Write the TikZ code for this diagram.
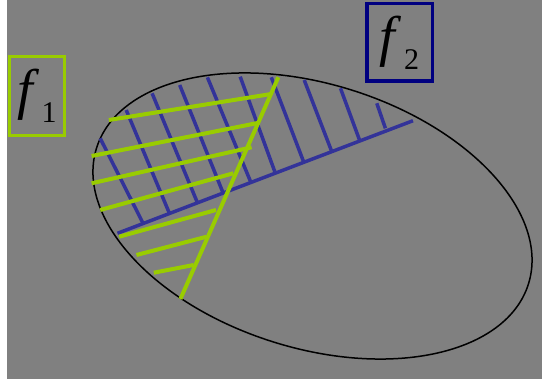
\documentclass[tikz,border=0pt]{standalone}
\usepackage{fontspec}
\setmainfont{Liberation Serif}
\definecolor{fondo}{HTML}{808080}
\definecolor{lima}{HTML}{99CC00}
\definecolor{azul}{HTML}{333399}
\definecolor{marino}{HTML}{000080}
\newcommand{\fname}[1]{\textit{f}\kern2pt\raisebox{-14pt}{\fontsize{30}{30}\selectfont #1}}

\begin{document}
\begin{tikzpicture}[x=1pt, y=1pt,
      setbox/.style={draw, inner sep=0pt, font=\fontsize{56}{56}\selectfont},
      hatchone/.style={lima, line width=4pt},
      hatchtwo/.style={azul, line width=3.5pt} ]

    \useasboundingbox (0,0) rectangle (542,380);
    \fill[white] (0,0) rectangle (542,380);
    \fill[fondo] (7,0.7) rectangle (542,380);

    % labels of the two sets
    \node[setbox, lima, line width=3pt, text=black,
          minimum width=55pt, minimum height=79pt] (f1) at (37,284) {\fname{1}};
    \node[setbox, marino, line width=3.5pt, text=black,
          minimum width=65.5pt, minimum height=77.5pt] (f2) at (399.5,337.5) {\fname{2}};

    % domain
    \draw[line width=1.5pt, rotate around={-17.5:(312.5,164)}]
      (312.5,164) ellipse [x radius=226.4, y radius=131.9];

    % f2 region
    \draw[hatchtwo] (117.5,146.7) -- (413,259.3);
    \draw[hatchtwo] (143.4,156) -- (100.2,241.7);
    \draw[hatchtwo] (169.4,166.7) -- (126.2,270);
    \draw[hatchtwo] (197,178.3) -- (152.1,286.7);
    \draw[hatchtwo] (223,187.3) -- (179.7,295);
    \draw[hatchtwo] (250.6,198.3) -- (207.4,302.7);
    \draw[hatchtwo] (274.8,208.3) -- (240.2,303.3);
    \draw[hatchtwo] (304.2,216.7) -- (271.3,302.7);
    \draw[hatchtwo] (331.8,228.3) -- (304.2,300);
    \draw[hatchtwo] (359.5,240) -- (340.5,291.7);
    \draw[hatchtwo] (385.4,251.7) -- (376.8,276.7);

    % f1 region
    \draw[hatchone] (180.4,81) -- (278.3,302.7);
    \draw[hatchone] (108.9,260) -- (271.3,286);
    \draw[hatchone] (91.6,224) -- (259.2,257.3);
    \draw[hatchone] (91.6,196.7) -- (251.6,232.7);
    \draw[hatchone] (100.2,170) -- (233.3,206.7);
    \draw[hatchone] (119.2,143.3) -- (216,170);
    \draw[hatchone] (136.5,125) -- (206.7,143.3);
    \draw[hatchone] (153.8,107.3) -- (193.6,115);
  \end{tikzpicture}
\end{document}
